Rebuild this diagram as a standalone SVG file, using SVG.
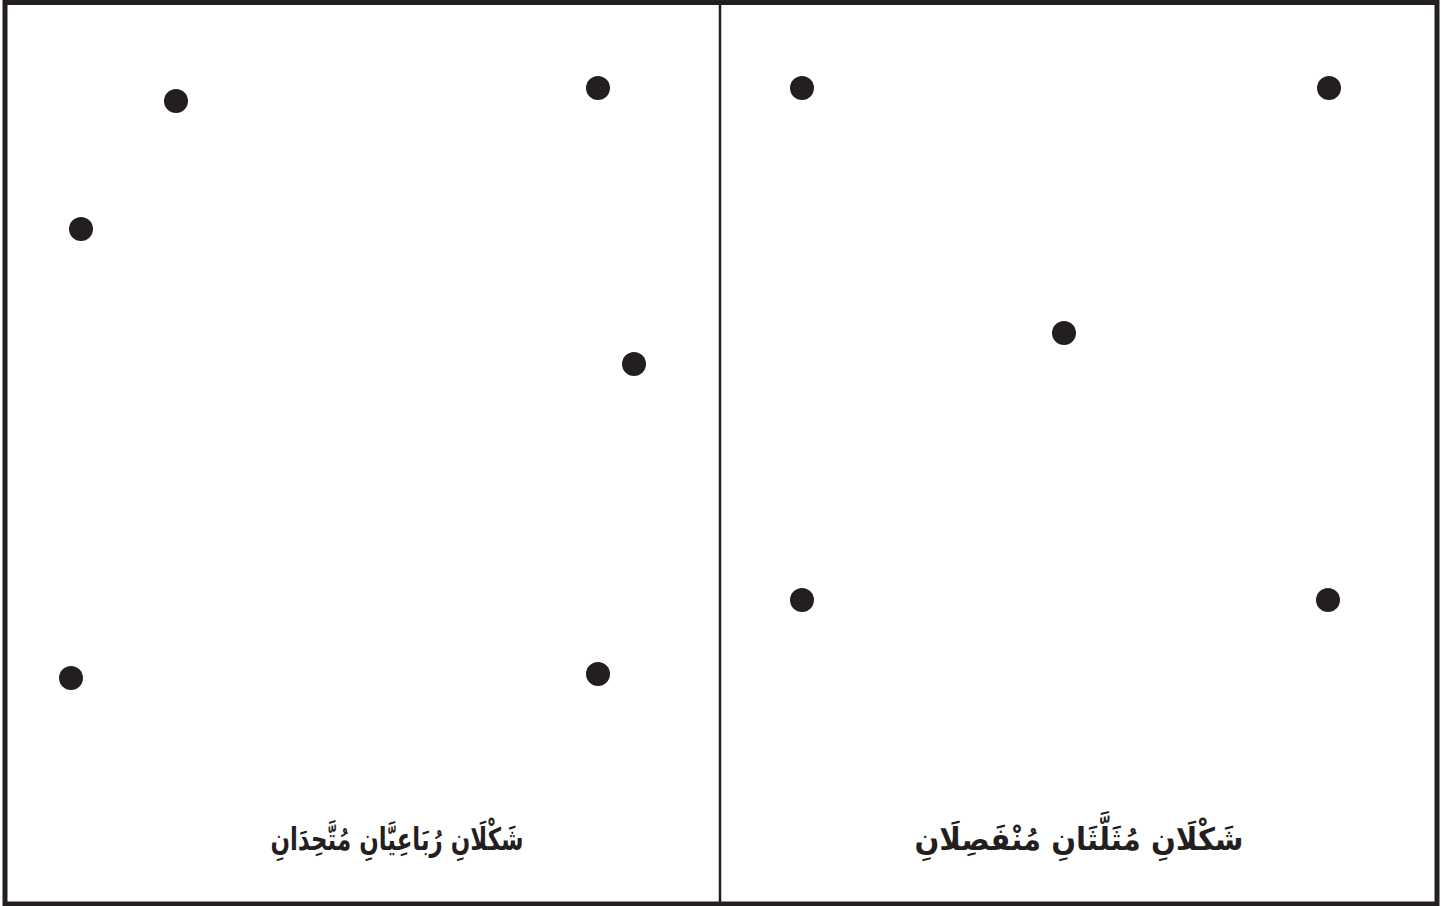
<svg xmlns="http://www.w3.org/2000/svg" width="1452" height="906" viewBox="0 0 1452 906">
<style>
.dot{fill:#231f20}
.lbl{font-family:"DejaVu Sans",sans-serif;font-weight:bold;font-size:31px;fill:#231f20;text-anchor:middle;direction:rtl}
</style>
<rect x="0" y="0" width="1452" height="906" fill="#fff"/>
<g id="frame" fill="none" stroke="#231f20">
<rect x="5" y="2.5" width="1432" height="901.5" stroke-width="5"/>
<line x1="720" y1="2" x2="720" y2="904" stroke-width="2.5"/>
</g>
<g id="left-panel">
<circle id="l1" class="dot" cx="176" cy="101" r="12"/>
<circle id="l2" class="dot" cx="598" cy="88" r="12"/>
<circle id="l3" class="dot" cx="81" cy="229" r="12"/>
<circle id="l4" class="dot" cx="634" cy="364" r="12"/>
<circle id="l5" class="dot" cx="71" cy="678" r="12"/>
<circle id="l6" class="dot" cx="598" cy="674" r="12"/>
<text id="l-label" class="lbl" x="397" y="850" transform="translate(397 0) scale(0.74 1) translate(-397 0)">شَكْلَانِ رُبَاعِيَّانِ مُتَّحِدَانِ</text>
</g>
<g id="right-panel">
<circle id="r1" class="dot" cx="802" cy="88" r="12"/>
<circle id="r2" class="dot" cx="1329" cy="88" r="12"/>
<circle id="r3" class="dot" cx="1064" cy="333" r="12"/>
<circle id="r4" class="dot" cx="802" cy="600" r="12"/>
<circle id="r5" class="dot" cx="1328" cy="600" r="12"/>
<text id="r-label" class="lbl" x="1079" y="850" transform="translate(1079 0) scale(0.94 1) translate(-1079 0)">شَكْلَانِ مُثَلَّثَانِ مُنْفَصِلَانِ</text>
</g>
<g id="connectors"/>
</svg>
